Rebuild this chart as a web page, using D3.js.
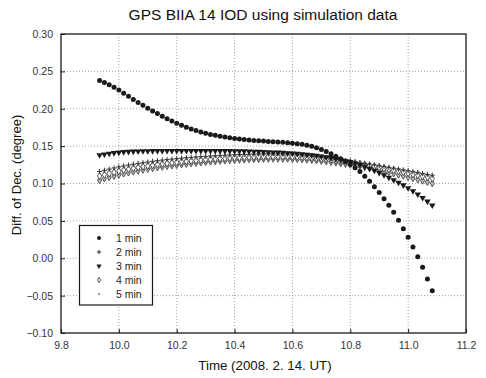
<!DOCTYPE html>
<html>
<head>
<meta charset="utf-8">
<script src="https://cdn.jsdelivr.net/npm/d3@7"></script>
<style>
  html, body { margin: 0; padding: 0; background: #fff; }
  svg { display: block; font-family: "Liberation Sans", Arial, sans-serif; }
</style>
</head>
<body>
<svg id="chart" width="486" height="378"></svg>
<script>
// ---- data ----
const titleText = "GPS BIIA 14 IOD using simulation data";
const xLabel = "Time (2008. 2. 14. UT)";
const yLabel = "Diff. of Dec. (degree)";
const xTicks = [9.8, 10.0, 10.2, 10.4, 10.6, 10.8, 11.0, 11.2];
const yTicks = [-0.10, -0.05, 0.00, 0.05, 0.10, 0.15, 0.20, 0.25, 0.30];
const seriesNames = ["1 min", "2 min", "3 min", "4 min", "5 min"];

// epoch times, minutes of day (UT)
const minutesUT = [596,597,598,599,600,601,602,603,604,605,606,607,608,609,610,611,612,613,614,615,
  616,617,618,619,620,621,622,623,624,625,626,627,628,629,630,631,632,633,634,635,
  636,637,638,639,640,641,642,643,644,645,646,647,648,649,650,651,652,653,654,655,
  656,657,658,659,660,661,662,663,664,665];

const diff1min = [0.2378,0.2350,0.2320,0.2288,0.2250,0.2208,0.2166,0.2125,0.2085,0.2046,
  0.2008,0.1971,0.1935,0.1900,0.1867,0.1836,0.1806,0.1778,0.1752,0.1729,
  0.1708,0.1689,0.1672,0.1657,0.1644,0.1632,0.1621,0.1611,0.1602,0.1594,
  0.1587,0.1581,0.1576,0.1571,0.1567,0.1563,0.1559,0.1555,0.1551,0.1546,
  0.1540,0.1533,0.1524,0.1512,0.1497,0.1478,0.1455,0.1428,0.1398,0.1365,
  0.1330,0.1293,0.1254,0.1212,0.1160,0.1098,0.1030,0.0958,0.0880,0.0797,
  0.0708,0.0615,0.0508,0.0395,0.0280,0.0150,0.0021,-0.0121,-0.0278,-0.0434];

const diff2min = [0.1160,0.1177,0.1193,0.1208,0.1222,0.1235,0.1247,0.1258,0.1269,0.1279,
  0.1288,0.1297,0.1305,0.1313,0.1320,0.1327,0.1333,0.1339,0.1345,0.1350,
  0.1355,0.1360,0.1364,0.1368,0.1372,0.1376,0.1379,0.1382,0.1385,0.1388,
  0.1390,0.1392,0.1394,0.1395,0.1396,0.1397,0.1397,0.1397,0.1396,0.1395,
  0.1393,0.1389,0.1384,0.1378,0.1371,0.1363,0.1355,0.1346,0.1337,0.1328,
  0.1318,0.1308,0.1298,0.1288,0.1278,0.1268,0.1258,0.1248,0.1237,0.1227,
  0.1216,0.1205,0.1194,0.1183,0.1171,0.1159,0.1147,0.1135,0.1123,0.1111];

const diff3min = [0.1381,0.1391,0.1400,0.1409,0.1416,0.1422,0.1426,0.1429,0.1431,0.1433,
  0.1434,0.1435,0.1436,0.1437,0.1437,0.1438,0.1438,0.1438,0.1438,0.1438,
  0.1438,0.1438,0.1437,0.1437,0.1437,0.1436,0.1436,0.1435,0.1434,0.1433,
  0.1432,0.1430,0.1428,0.1426,0.1424,0.1421,0.1418,0.1415,0.1412,0.1408,
  0.1404,0.1399,0.1394,0.1387,0.1380,0.1372,0.1363,0.1353,0.1342,0.1330,
  0.1317,0.1303,0.1288,0.1270,0.1250,0.1228,0.1200,0.1172,0.1142,0.1112,
  0.1080,0.1047,0.1013,0.0977,0.0939,0.0898,0.0855,0.0809,0.0760,0.0709];

const diff4min = [0.1100,0.1118,0.1135,0.1151,0.1166,0.1180,0.1193,0.1205,0.1216,0.1227,
  0.1237,0.1246,0.1255,0.1263,0.1271,0.1278,0.1285,0.1292,0.1298,0.1304,
  0.1310,0.1315,0.1320,0.1325,0.1330,0.1334,0.1338,0.1342,0.1345,0.1348,
  0.1351,0.1354,0.1356,0.1358,0.1360,0.1361,0.1362,0.1362,0.1362,0.1361,
  0.1360,0.1357,0.1354,0.1350,0.1345,0.1339,0.1332,0.1325,0.1317,0.1309,
  0.1300,0.1291,0.1282,0.1272,0.1262,0.1252,0.1240,0.1228,0.1216,0.1203,
  0.1190,0.1177,0.1164,0.1151,0.1138,0.1125,0.1112,0.1098,0.1084,0.1070];

const diff5min = [0.1047,0.1066,0.1084,0.1101,0.1117,0.1132,0.1146,0.1159,0.1171,0.1183,
  0.1194,0.1204,0.1214,0.1223,0.1232,0.1240,0.1248,0.1255,0.1262,0.1269,
  0.1275,0.1281,0.1287,0.1292,0.1297,0.1302,0.1306,0.1310,0.1314,0.1317,
  0.1320,0.1323,0.1325,0.1327,0.1329,0.1330,0.1331,0.1331,0.1331,0.1330,
  0.1329,0.1326,0.1323,0.1319,0.1314,0.1308,0.1301,0.1294,0.1286,0.1278,
  0.1269,0.1260,0.1250,0.1240,0.1229,0.1218,0.1205,0.1192,0.1179,0.1165,
  0.1150,0.1134,0.1118,0.1102,0.1086,0.1070,0.1054,0.1037,0.1020,0.1003];

const seriesValues = [diff1min, diff2min, diff3min, diff4min, diff5min];

// ---- layout ----
const svg = d3.select("#chart");
const plot = { left: 61, right: 466, top: 34, bottom: 333 };
const x = d3.scaleLinear().domain([9.8, 11.2]).range([plot.left, plot.right]);
const y = d3.scaleLinear().domain([-0.10, 0.30]).range([plot.bottom, plot.top]);
const ink = "#1a1a1a";

// grid
const grid = svg.append("g");
grid.selectAll("line.gx").data(xTicks.slice(1, -1)).join("line")
  .attr("x1", d => x(d)).attr("x2", d => x(d))
  .attr("y1", plot.top).attr("y2", plot.bottom)
  .attr("stroke", "#888").attr("stroke-width", 0.8).attr("stroke-dasharray", "1,2");
grid.selectAll("line.gy").data(yTicks.slice(1, -1)).join("line")
  .attr("y1", d => y(d)).attr("y2", d => y(d))
  .attr("x1", plot.left).attr("x2", plot.right)
  .attr("stroke", "#888").attr("stroke-width", 0.8).attr("stroke-dasharray", "1,2");

// axes
const xAxis = d3.axisBottom(x).tickValues(xTicks).tickFormat(d3.format(".1f"))
  .tickSizeInner(-4).tickSizeOuter(0).tickPadding(9);
const yAxis = d3.axisLeft(y).tickValues(yTicks).tickFormat(d3.format(".2f"))
  .tickSizeInner(-4).tickSizeOuter(0).tickPadding(8);
const gx = svg.append("g").attr("transform", `translate(0,${plot.bottom})`).call(xAxis);
const gy = svg.append("g").attr("transform", `translate(${plot.left},0)`).call(yAxis);
[gx, gy].forEach(g => {
  g.select(".domain").remove();
  g.selectAll(".tick line").attr("stroke", ink).attr("stroke-width", 1);
  g.selectAll(".tick text").attr("fill", "#333").attr("font-size", 10.5)
    .attr("font-family", "'Liberation Sans', Arial, sans-serif");
});

// frame
svg.append("rect").attr("x", plot.left).attr("y", plot.top)
  .attr("width", plot.right - plot.left).attr("height", plot.bottom - plot.top)
  .attr("fill", "none").attr("stroke", ink).attr("stroke-width", 1.3);

// markers
const plusPath = s => `M${-s},0H${s}M0,${-s}V${s}`;
function drawMarker(g, k, cx, cy, legend) {
  if (k === 0) {
    g.append("circle").attr("cx", cx).attr("cy", cy).attr("r", legend ? 2 : 2.5).attr("fill", ink);
  } else if (k === 1) {
    g.append("path").attr("d", plusPath(legend ? 2.2 : 2.5))
      .attr("transform", `translate(${cx},${cy})`).attr("stroke", "#333").attr("stroke-width", 1).attr("fill", "none");
  } else if (k === 2) {
    g.append("path").attr("d", d3.symbol(d3.symbolTriangle, legend ? 12 : 18)())
      .attr("transform", `translate(${cx},${cy}) rotate(180)`).attr("fill", ink);
  } else if (k === 3) {
    g.append("path").attr("d", d3.symbol(d3.symbolDiamond, legend ? 8 : 16)())
      .attr("transform", `translate(${cx},${cy})`).attr("fill", "#fff").attr("stroke", "#444").attr("stroke-width", 0.9);
  } else {
    if (legend) {
      g.append("circle").attr("cx", cx).attr("cy", cy).attr("r", 0.9).attr("fill", "#666");
    } else {
      g.append("path").attr("d", d3.symbol(d3.symbolDiamond, 14)())
        .attr("transform", `translate(${cx},${cy})`).attr("fill", "#bbb").attr("stroke", "#333").attr("stroke-width", 0.8);
    }
  }
}

const marks = svg.append("g");
// draw lower series first, 1 min last on top
[4, 3, 1, 2, 0].forEach(k => {
  const gs = marks.append("g");
  seriesValues[k].forEach((v, i) => {
    drawMarker(gs, k, x(minutesUT[i] / 60), y(v), false);
  });
});

// legend
const lg = svg.append("g");
lg.append("rect").attr("x", 79.5).attr("y", 225.5).attr("width", 73).attr("height", 79.5)
  .attr("fill", "#fff").attr("stroke", ink).attr("stroke-width", 1.2);
seriesNames.forEach((name, k) => {
  const cy = 238 + k * 14;
  drawMarker(lg, k, 99, cy, true);
  lg.append("text").attr("x", 116).attr("y", cy + 3.8).attr("font-size", 10.5)
    .attr("fill", "#222").text(name);
});

// titles
svg.append("text").attr("x", 263).attr("y", 20).attr("text-anchor", "middle")
  .attr("font-size", 15.5).attr("fill", "#111").text(titleText);
svg.append("text").attr("x", 265).attr("y", 370).attr("text-anchor", "middle")
  .attr("font-size", 13.3).attr("fill", "#111").text(xLabel);
svg.append("text").attr("transform", "translate(21,175) rotate(-90)").attr("text-anchor", "middle")
  .attr("font-size", 13).attr("fill", "#111").text(yLabel);
</script>
</body>
</html>
